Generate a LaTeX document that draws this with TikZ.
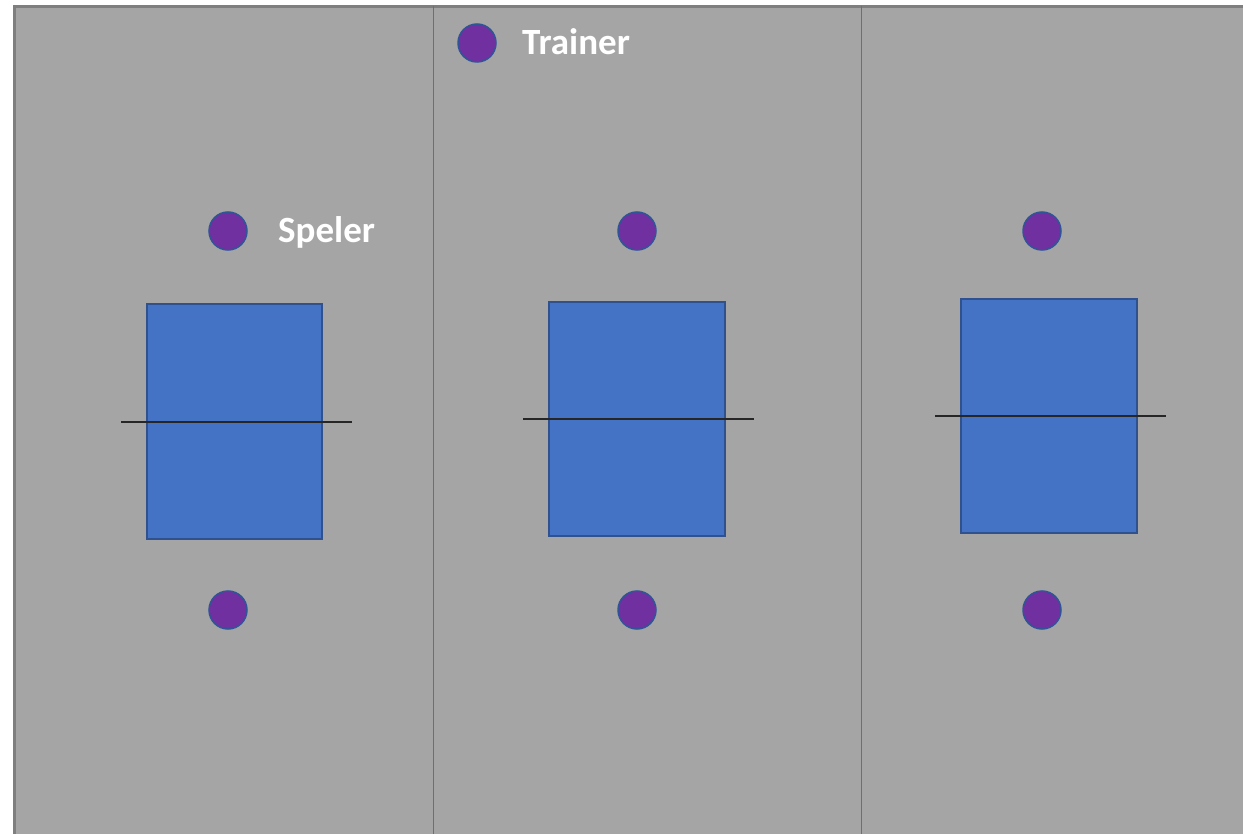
\documentclass[tikz,border=0pt]{standalone}
\usepackage{fontspec}
\setmainfont{Carlito}
\definecolor{bg}{HTML}{A5A5A5}
\definecolor{bgline}{HTML}{7F7F7F}
\definecolor{purp}{HTML}{7030A0}
\definecolor{circb}{HTML}{2F5597}
\definecolor{tbl}{HTML}{4472C4}
\definecolor{tblb}{HTML}{2F528F}
\definecolor{sep}{HTML}{4A72C0}
\tikzset{
  player/.style={circle,fill=purp,draw=circb,line width=1.5pt,minimum size=38pt,inner sep=0pt},
  table/.style={fill=tbl,draw=tblb,line width=1.8pt},
  net/.style={draw=black!85,line width=1.2pt},
  lbl/.style={text=white,font=\bfseries\fontsize{37}{40}\selectfont,inner sep=0pt,anchor=base west},
  sepline/.style={draw=sep,line width=1pt}
}
\begin{document}
\begin{tikzpicture}[x=1pt,y=-1pt]
\useasboundingbox (0,0) rectangle (1243,834);
\fill[white] (0,0) rectangle (1243,834);
\begin{scope}
\clip (0,0) rectangle (1243,834);
\draw[fill=bg,draw=bgline,line width=2.5pt] (14.5,6.5) rectangle (1260,850);
\end{scope}
% separators
\coordinate (s1t) at (433,6); \coordinate (s1b) at (433,834);
\coordinate (s2t) at (861,6); \coordinate (s2b) at (861,834);
\draw[sepline] (s1t) -- (s1b);
\draw[sepline] (s2t) -- (s2b);
% tables
\draw[table] (147,304) rectangle (322,539);
\draw[table] (549,302) rectangle (725,536);
\draw[table] (961,299) rectangle (1137,533);
% nets
\coordinate (n1a) at (121,422); \coordinate (n1b) at (352,422);
\coordinate (n2a) at (523,419); \coordinate (n2b) at (754,419);
\coordinate (n3a) at (935,416); \coordinate (n3b) at (1166,416);
\draw[net] (n1a) -- (n1b);
\draw[net] (n2a) -- (n2b);
\draw[net] (n3a) -- (n3b);
% players
\node[player] (tr) at (477,43) {};
\node[player] (p1) at (228,231) {};
\node[player] (p2) at (637,231) {};
\node[player] (p3) at (1042,231) {};
\node[player] (q1) at (228,610) {};
\node[player] (q2) at (637,610) {};
\node[player] (q3) at (1042,610) {};
\node[lbl] (trl) at (522,55) {Trainer};
\node[lbl] (spl) at (278,243) {Speler};
\end{tikzpicture}
\end{document}
